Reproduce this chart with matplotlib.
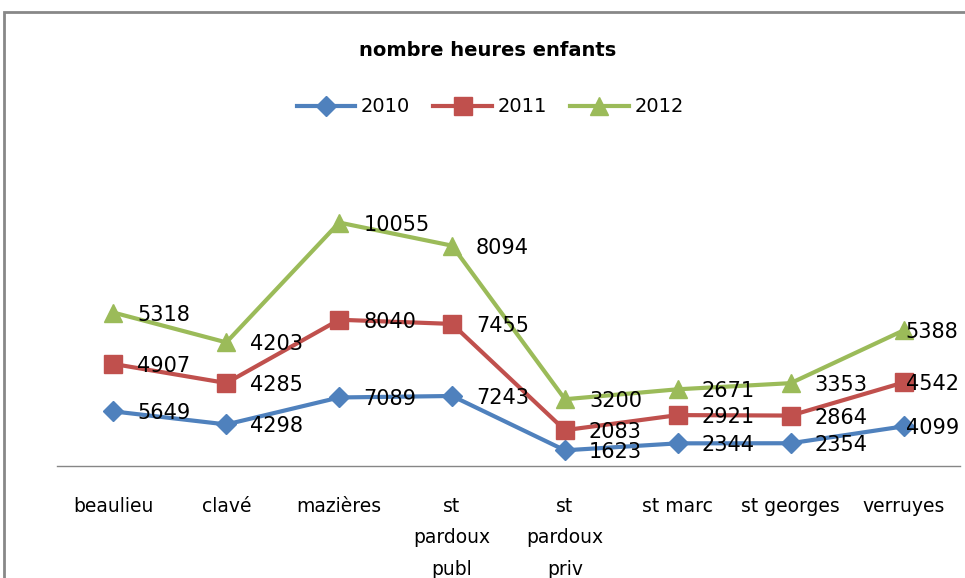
import numpy as np
import matplotlib
matplotlib.use("Agg")
from matplotlib import pyplot as plt
from matplotlib.patches import Rectangle

categories = ["beaulieu", "clavé", "mazières", "st\npardoux\npubl", "st\npardoux\npriv",
              "st marc", "st georges", "verruyes"]
years = ["2010", "2011", "2012"]
v2010 = [5649, 4298, 7089, 7243, 1623, 2344, 2354, 4099]
v2011 = [4907, 4285, 8040, 7455, 2083, 2921, 2864, 4542]
v2012 = [5318, 4203, 10055, 8094, 3200, 2671, 3353, 5388]

colors = ["#4F81BD", "#C0504D", "#9BBB59"]
markers = ["D", "s", "^"]
msizes = [10, 13, 13]

fig = plt.figure(figsize=(9.65, 5.78), dpi=100)
ax = fig.add_axes([57 / 965, 1 - 466 / 578, 903 / 965, 290 / 578])

x = np.arange(len(categories))
series = [v2010, v2011, v2012]
stacked = np.cumsum(np.array(series), axis=0)

for i, yr in enumerate(years):
    ax.plot(x, stacked[i], color=colors[i], lw=3, marker=markers[i],
            ms=msizes[i], label=yr, zorder=3)
    for xi, yi, val in zip(x, stacked[i], series[i]):
        # last labels get squeezed against the right edge, like excel does
        dx = 2 if xi == x[-1] else 24
        ax.annotate(str(val), (xi, yi), xytext=(dx, -2), textcoords="offset pixels",
                    ha="left", va="center", fontsize=15, color="black", zorder=4)

ax.set_xlim(-0.5, len(categories) - 0.5)
ax.set_ylim(0, 30000)
ax.set_yticks([])
ax.set_xticks(x)
ax.set_xticklabels(categories, fontsize=13.5, linespacing=1.85, va="top")
ax.tick_params(axis="x", length=0, pad=22)
for s in ["top", "right", "left"]:
    ax.spines[s].set_visible(False)
ax.spines["bottom"].set_color("#868686")
ax.spines["bottom"].set_linewidth(1)

fig.text(0.505, 0.913, "nombre heures enfants", ha="center", va="center",
         fontsize=14, fontweight="semibold")
fig.legend(loc="center", bbox_to_anchor=(0.508, 0.815), ncol=3, frameon=False,
           prop={"size": 14}, handlelength=3, columnspacing=1.2,
           handletextpad=0.3)

fig.patches.append(Rectangle((4 / 965, -0.1), 1.2, 1.1 - 12 / 578,
                             transform=fig.transFigure, fill=False,
                             edgecolor="#888888", lw=2))

fig.savefig("out.png", dpi=100)
